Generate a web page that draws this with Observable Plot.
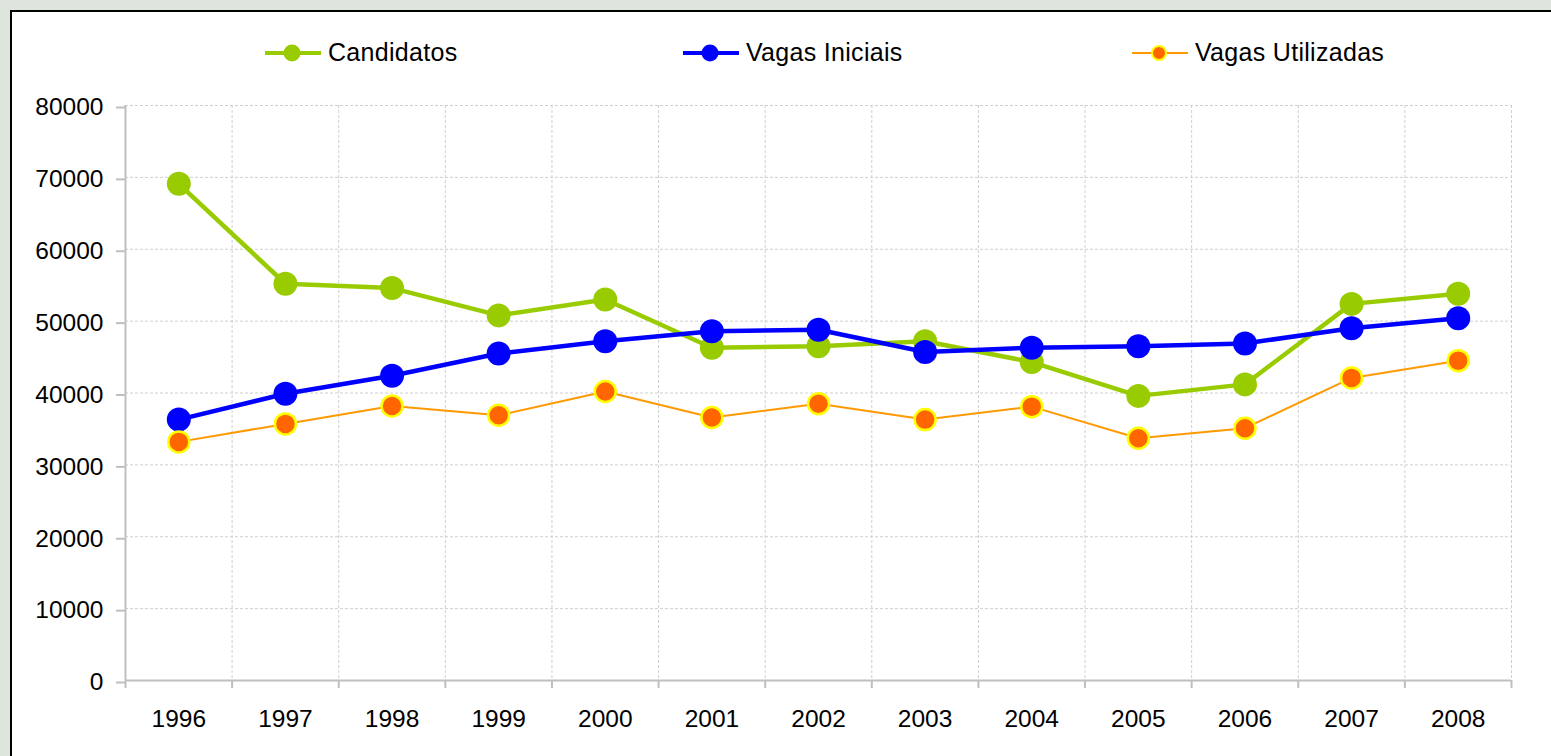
<!DOCTYPE html>
<html>
<head>
<meta charset="utf-8">
<script src="https://cdn.jsdelivr.net/npm/d3@7"></script>
<script src="https://cdn.jsdelivr.net/npm/@observablehq/plot@0.6"></script>
<style>
  html, body { margin: 0; padding: 0; width: 1551px; height: 756px; overflow: hidden; background: #dde5dd; font-family: "Liberation Sans", Arial, sans-serif; }
  #box { position: absolute; left: 10px; top: 10px; width: 1600px; height: 800px; border: 2px solid #000; background: #fff; }
  #chart { position: absolute; left: 0; top: 80px; }
  .leg { position: absolute; top: 38px; display: flex; align-items: center; font-size: 25px; color: #000; letter-spacing: 0.3px; }
  .leg svg { display: block; margin-right: 7px; }
</style>
</head>
<body>
<div id="box"></div>
<div id="legend"></div>
<div id="chart"></div>
<script>
// ---- data ----
const years = [1996, 1997, 1998, 1999, 2000, 2001, 2002, 2003, 2004, 2005, 2006, 2007, 2008];
const candidatos = [69100, 55200, 54600, 50800, 53000, 46300, 46500, 47200, 44300, 39600, 41200, 52400, 53800];
const vagasIniciais = [36300, 39900, 42400, 45500, 47200, 48600, 48800, 45700, 46300, 46500, 46900, 49000, 50400];
const vagasUtilizadas = [33200, 35700, 38200, 36900, 40200, 36600, 38500, 36300, 38100, 33700, 35100, 42100, 44500];
const seriesNames = ["Candidatos", "Vagas Iniciais", "Vagas Utilizadas"];
const yTicks = [0, 10000, 20000, 30000, 40000, 50000, 60000, 70000, 80000];

// ---- styles ----
const styles = [
  {line: "#99CC00", lineWidth: 4.5, fill: "#99CC00", stroke: "none", r: 12, legR: 8.5, legW: 4},
  {line: "#0000FF", lineWidth: 4.5, fill: "#0000FF", stroke: "none", r: 12, legR: 8.5, legW: 4},
  {line: "#FF9900", lineWidth: 2, fill: "#FF6600", stroke: "#FFFF00", r: 10.5, legR: 7, legW: 2}
];
const legendX = [265, 683, 1132];

const seriesValues = [candidatos, vagasIniciais, vagasUtilizadas];
const tables = seriesValues.map((vals, i) => years.map((yr, j) => ({year: yr, value: vals[j], series: seriesNames[i]})));
const boundaries = [years[0] - 0.5, ...years.map(y => y + 0.5)];

const gridStyle = {stroke: "#cfcfcf", strokeOpacity: 1, strokeDasharray: "3,2"};
const axisColor = "#bfbfbf";

const marks = [
  Plot.gridY(yTicks.filter(d => d > 0), gridStyle),
  Plot.gridX(boundaries.slice(1), gridStyle),
  Plot.ruleY([0], {stroke: axisColor, strokeWidth: 2}),
  Plot.ruleX([boundaries[0]], {stroke: axisColor, strokeWidth: 2}),
  Plot.axisY(yTicks, {tickSize: 9, tickPadding: 13, tickFormat: d => String(d), stroke: axisColor, strokeWidth: 2, fill: "#000", fontSize: 24.5, label: null, dy: 2}),
  Plot.axisX(boundaries, {tickSize: 8, tickFormat: () => "", stroke: axisColor, strokeWidth: 2, label: null}),
  Plot.axisX(years, {tickSize: 0, tickPadding: 29, tickFormat: d => String(d), fill: "#000", fontSize: 24.5, label: null})
];
tables.forEach((t, i) => {
  const s = styles[i];
  marks.push(Plot.line(t, {x: "year", y: "value", stroke: s.line, strokeWidth: s.lineWidth}));
  marks.push(Plot.dot(t, {x: "year", y: "value", r: s.r, fill: s.fill, stroke: s.stroke, strokeWidth: s.stroke === "none" ? 0 : 2.5}));
});

const chart = Plot.plot({
  width: 1551,
  height: 676,
  marginTop: 25,
  marginBottom: 76,
  marginLeft: 125,
  marginRight: 40,
  style: {background: "transparent", fontFamily: "'Liberation Sans', Arial, sans-serif"},
  x: {domain: [boundaries[0], boundaries[boundaries.length - 1]], axis: null},
  y: {domain: [0, 80000], axis: null},
  marks
});
document.getElementById("chart").appendChild(chart);

// ---- legend ----
const legend = document.getElementById("legend");
seriesNames.forEach((name, i) => {
  const s = styles[i];
  const item = document.createElement("div");
  item.className = "leg";
  item.style.left = legendX[i] + "px";
  const ns = "http://www.w3.org/2000/svg";
  const svg = document.createElementNS(ns, "svg");
  svg.setAttribute("width", 56); svg.setAttribute("height", 28);
  const ln = document.createElementNS(ns, "line");
  ln.setAttribute("x1", 0); ln.setAttribute("x2", 56); ln.setAttribute("y1", 14); ln.setAttribute("y2", 14);
  ln.setAttribute("stroke", s.line); ln.setAttribute("stroke-width", s.legW);
  svg.appendChild(ln);
  const c = document.createElementNS(ns, "circle");
  c.setAttribute("cx", 27); c.setAttribute("cy", 14); c.setAttribute("r", s.legR);
  c.setAttribute("fill", s.fill);
  if (s.stroke !== "none") { c.setAttribute("stroke", s.stroke); c.setAttribute("stroke-width", 2); }
  svg.appendChild(c);
  item.appendChild(svg);
  const span = document.createElement("span");
  span.textContent = name;
  item.appendChild(span);
  legend.appendChild(item);
});
</script>
</body>
</html>
